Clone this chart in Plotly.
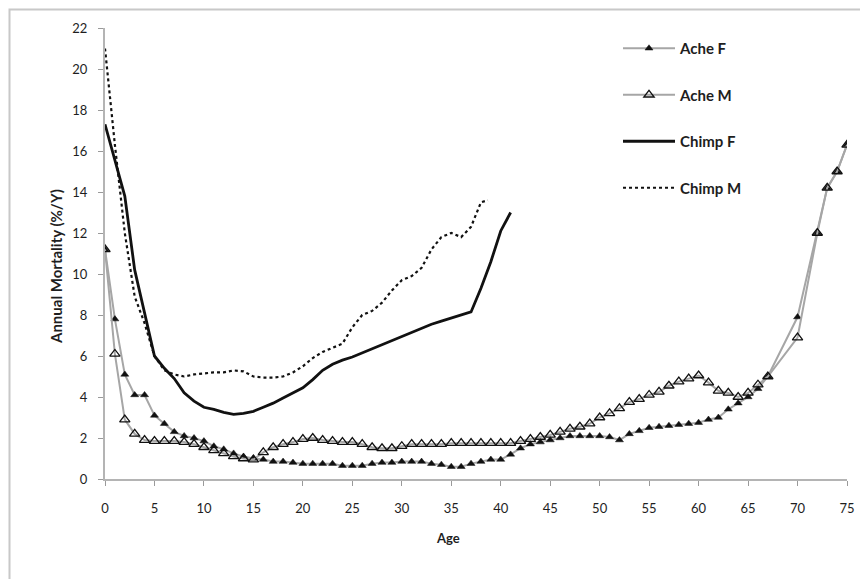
import plotly.graph_objects as go

# ---------------- data ----------------
ache_ages = list(range(0, 68)) + [70, 72, 73, 74, 75]

ache_f = [11.2, 7.8, 5.1, 4.1, 4.1, 3.1, 2.7, 2.3, 2.1, 2.0,
          1.85, 1.6, 1.45, 1.25, 1.1, 1.0, 0.95, 0.85, 0.85, 0.8,
          0.75, 0.75, 0.75, 0.75, 0.65, 0.65, 0.65, 0.75, 0.8, 0.8,
          0.85, 0.85, 0.85, 0.75, 0.7, 0.6, 0.6, 0.75, 0.85, 0.95,
          0.95, 1.2, 1.5, 1.7, 1.8, 1.9, 2.0, 2.1, 2.1, 2.1,
          2.1, 2.05, 1.9, 2.2, 2.35, 2.5, 2.55, 2.6, 2.65, 2.7,
          2.75, 2.9, 3.0, 3.4, 3.7, 4.0, 4.4, 5.0,
          7.9, 12.0, 14.2, 15.0, 16.3]

ache_m = [11.2, 6.1, 2.9, 2.2, 1.9, 1.85, 1.85, 1.85, 1.8, 1.7,
          1.55, 1.4, 1.25, 1.1, 1.0, 0.95, 1.3, 1.55, 1.7, 1.8,
          1.95, 2.0, 1.9, 1.85, 1.8, 1.8, 1.7, 1.55, 1.5, 1.5,
          1.6, 1.7, 1.7, 1.7, 1.7, 1.75, 1.75, 1.75, 1.75, 1.75,
          1.75, 1.75, 1.85, 1.95, 2.05, 2.15, 2.3, 2.45, 2.55, 2.7,
          3.0, 3.2, 3.45, 3.75, 3.9, 4.1, 4.25, 4.55, 4.75, 4.9,
          5.05, 4.7, 4.3, 4.2, 4.0, 4.2, 4.6, 5.0,
          6.9, 12.0, 14.2, 15.0, 16.3]

chimp_f_ages = list(range(0, 42))
chimp_f = [17.3, 15.6, 13.8, 10.2, 8.1, 6.0, 5.4, 4.9, 4.2, 3.8,
           3.5, 3.4, 3.25, 3.15, 3.2, 3.3, 3.5, 3.7, 3.95, 4.2,
           4.45, 4.85, 5.3, 5.6, 5.8, 5.95, 6.15, 6.35, 6.55, 6.75,
           6.95, 7.15, 7.35, 7.55, 7.7, 7.85, 8.0, 8.15, 9.3, 10.6,
           12.1, 13.0]

chimp_m_ages = list(range(0, 39)) + [38.7]
chimp_m = [21.0, 16.3, 12.0, 8.9, 7.6, 6.0, 5.3, 5.1, 5.0, 5.1,
           5.15, 5.2, 5.2, 5.3, 5.25, 5.0, 4.95, 4.95, 5.0, 5.2,
           5.5, 5.9, 6.2, 6.4, 6.6, 7.4, 8.0, 8.2, 8.6, 9.2,
           9.7, 9.9, 10.3, 11.2, 11.8, 12.0, 11.8, 12.3, 13.5, 13.6]

x_ticks = list(range(0, 80, 5))
y_ticks = list(range(0, 24, 2))

# ---------------- figure ----------------
FONT = "Lato, 'Open Sans', sans-serif"
GRAY_LINE = "#a6a6a6"
TXT = "#1e1e1e"

# plot area in screen pixels (page is shown with an 8px body margin)
PX0, PX1, PY0, PY1 = 105, 847, 28, 479
OFF = 8
PW, PH = PX1 - PX0, PY1 - PY0


def px(x):
    return (x - PX0) / PW


def py(y):
    return (PY1 - y) / PH


fig = go.Figure()

fig.add_trace(go.Scatter(
    x=ache_ages, y=ache_f, name="Ache F", mode="lines+markers",
    line=dict(color=GRAY_LINE, width=2),
    marker=dict(symbol="triangle-up", size=7, color="#111111",
                line=dict(color="#111111", width=0.5)),
    legendgroup="a"))
fig.add_trace(go.Scatter(
    x=ache_ages, y=ache_m, name="Ache M", mode="lines+markers",
    line=dict(color=GRAY_LINE, width=2),
    marker=dict(symbol="triangle-up-open", size=9, color="#111111",
                line=dict(color="#111111", width=1.3)),
    legendgroup="b"))
fig.add_trace(go.Scatter(
    x=chimp_f_ages, y=chimp_f, name="Chimp F", mode="lines",
    line=dict(color="#111111", width=2.8),
    legendgroup="c"))
fig.add_trace(go.Scatter(
    x=chimp_m_ages, y=chimp_m, name="Chimp M", mode="lines",
    line=dict(color="#111111", width=2.2, dash="dot"),
    legendgroup="d"))

axis_common = dict(
    showgrid=False, zeroline=False, showline=True,
    linecolor="#b4b4b4", linewidth=2,
    ticks="outside", ticklen=5, tickwidth=1, tickcolor="#9a9a9a",
    tickfont=dict(family=FONT, size=13, color=TXT),
)

fig.update_xaxes(range=[0, 75], tickvals=x_ticks, ticktext=[str(v) for v in x_ticks],
                 ticklabelstandoff=11, **axis_common)
fig.update_yaxes(range=[0, 22], tickvals=y_ticks, ticktext=[str(v) for v in y_ticks],
                 ticklabelstandoff=8, **axis_common)

fig.add_annotation(text="<b>Age</b>", xref="paper", yref="paper",
                   x=px(448), y=py(548),
                   showarrow=False, font=dict(family=FONT, size=13, color=TXT))
fig.add_annotation(text="<b>Annual Mortality (%/Y)</b>", xref="paper", yref="paper",
                   x=px(45), y=py(267), textangle=-90,
                   showarrow=False, font=dict(family=FONT, size=15, color=TXT))

# outer chart-area border (just inside the figure's top-left corner)
fig.add_shape(type="rect", xref="paper", yref="paper",
              x0=px(OFF + 1.5), x1=px(900), y0=py(620), y1=py(OFF + 1.5),
              line=dict(color="#c8c8c8", width=2), layer="above")

fig.update_layout(
    width=868, height=579,
    margin=dict(l=PX0 - OFF, r=868 - (PX1 - OFF), t=PY0 - OFF, b=579 - (PY1 - OFF)),
    paper_bgcolor="white", plot_bgcolor="white",
    font=dict(family=FONT, size=13, color=TXT),
    showlegend=True,
    legend=dict(x=px(618), y=py(32), xanchor="left", yanchor="top",
                bgcolor="rgba(0,0,0,0)", tracegroupgap=24, itemwidth=52,
                font=dict(family=FONT, size=15, color=TXT, weight="bold")),
)

fig.write_html("out.html")
